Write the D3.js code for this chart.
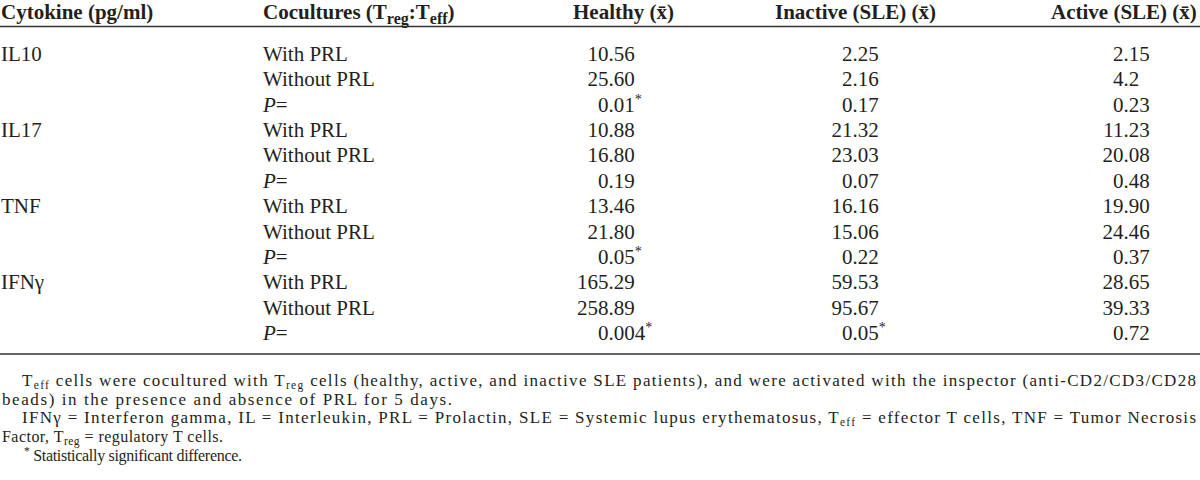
<!DOCTYPE html>
<html><head><meta charset="utf-8">
<script src="https://cdn.jsdelivr.net/npm/d3@7"></script>
<style>
html,body{margin:0;padding:0;background:#fff;}
svg{display:block;}
text{font-family:"Liberation Serif","Times New Roman",serif;fill:#231f20;}
</style></head><body>
<svg id="c" width="1200" height="480"></svg>
<script>
// ---- data ----
const cytokines = ["IL10", "IL17", "TNF", "IFNγ"];
const conditions = ["With PRL", "Without PRL", "P="];
const groups = ["Healthy", "Inactive (SLE)", "Active (SLE)"];
const healthy  = ["10.56", "25.60", "0.01", "10.88", "16.80", "0.19", "13.46", "21.80", "0.05", "165.29", "258.89", "0.004"];
const inactive = ["2.25", "2.16", "0.17", "21.32", "23.03", "0.07", "16.16", "15.06", "0.22", "59.53", "95.67", "0.05"];
const active   = ["2.15", "4.2", "0.23", "11.23", "20.08", "0.48", "19.90", "24.46", "0.37", "28.65", "39.33", "0.72"];
const sigHealthy  = [2, 8, 11];
const sigInactive = [11];
const sigActive   = [];

// ---- layout ----
const svg = d3.select("#c");
const FS = 21, SUBFS = 14;
const values = [healthy, inactive, active];
const sigs = [sigHealthy, sigInactive, sigActive];
const nRows = cytokines.length * conditions.length;
const y = d3.scalePoint().domain(d3.range(nRows)).range([61, 340]);
const decX = d3.scaleOrdinal().domain(groups).range([608.5, 852.5, 1123.5]);
const headX = d3.scaleOrdinal().domain(["c0","c1"].concat(groups)).range([1, 263, 573, 775, 1051]);

// helper: append segments to a text element; shifts carried on the next real tspan
function segs(t, parts, subfs, subShift, supShift) {
  let carry = 0;
  parts.forEach(p => {
    const [s, kind] = p;
    const ts = t.append("tspan").text(s);
    if (kind === "sub") {
      ts.attr("dy", carry + subShift).attr("font-size", subfs);
      carry = -subShift;
    } else if (kind === "sup") {
      ts.attr("dy", carry - supShift).attr("font-size", subfs);
      carry = supShift;
    } else {
      if (carry) ts.attr("dy", carry);
      carry = 0;
      if (kind === "i") ts.attr("font-style", "italic");
    }
  });
}

// header
const hg = svg.append("g").attr("font-weight", "bold").attr("font-size", FS);
hg.append("text").attr("x", headX("c0")).attr("y", 19).text("Cytokine (pg/ml)");
segs(hg.append("text").attr("x", headX("c1")).attr("y", 19),
  [["Cocultures (T"], ["reg", "sub"], [":T"], ["eff", "sub"], [")"]], 16, 5, 8);
groups.forEach(g => {
  hg.append("text").attr("x", headX(g)).attr("y", 19).text(g + " (x\u0304)");
});

// rules
svg.append("line").attr("x1", 0).attr("x2", 1200).attr("y1", 26.5).attr("y2", 26.5)
  .attr("stroke", "#333").attr("stroke-width", 1.6);
svg.append("line").attr("x1", 0).attr("x2", 1200).attr("y1", 354).attr("y2", 354)
  .attr("stroke", "#333").attr("stroke-width", 1.6);

// body
const bg = svg.append("g").attr("font-size", FS);
cytokines.forEach((c, i) => {
  bg.append("text").attr("x", headX("c0")).attr("y", y(i * conditions.length)).text(c);
});
d3.range(nRows).forEach(r => {
  const cond = conditions[r % conditions.length];
  const t = bg.append("text").attr("x", headX("c1")).attr("y", y(r));
  if (cond === "P=") segs(t, [["P", "i"], ["="]], SUBFS, 5, 8);
  else t.text(cond);
});
groups.forEach((g, gi) => {
  values[gi].forEach((v, r) => {
    const [ip, fp] = v.split(".");
    bg.append("text").attr("x", decX(g)).attr("y", y(r)).attr("text-anchor", "end").text(ip);
    const t = bg.append("text").attr("x", decX(g)).attr("y", y(r));
    const parts = [["." + fp]];
    if (sigs[gi].includes(r)) parts.push(["*", "sup"]);
    segs(t, parts, SUBFS, 5, 8);
  });
});

// footnotes
const FSUB = 11.5;
const fg = svg.append("g");
const notes = [
  {x: 22, y: 386, fs: 17, end: 1196, parts: [["T"], ["eff", "sub"], [" cells were cocultured with T"], ["reg", "sub"], [" cells (healthy, active, and inactive SLE patients), and were activated with the inspector (anti-CD2/CD3/CD28"]]},
  {x: 2, y: 405, fs: 17, end: 452, parts: [["beads) in the presence and absence of PRL for 5 days."]]},
  {x: 22, y: 423, fs: 17, end: 1196, parts: [["IFNγ = Interferon gamma, IL = Interleukin, PRL = Prolactin, SLE = Systemic lupus erythematosus, T"], ["eff", "sub"], [" = effector T cells, TNF = Tumor Necrosis"]]},
  {x: 2, y: 442, fs: 16, end: 223, parts: [["Factor, T"], ["reg", "sub"], [" = regulatory T cells."]]},
  {x: 24, y: 461, fs: 16, end: 242, parts: [["*", "sup"], [" Statistically significant difference."]]}
];
notes.forEach(n => {
  const t = fg.append("text").attr("x", n.x).attr("y", n.y).attr("font-size", n.fs);
  segs(t, n.parts, FSUB, 3, 6);
  t.attr("textLength", n.end - n.x).attr("lengthAdjust", "spacing");
});
</script>
</body></html>
